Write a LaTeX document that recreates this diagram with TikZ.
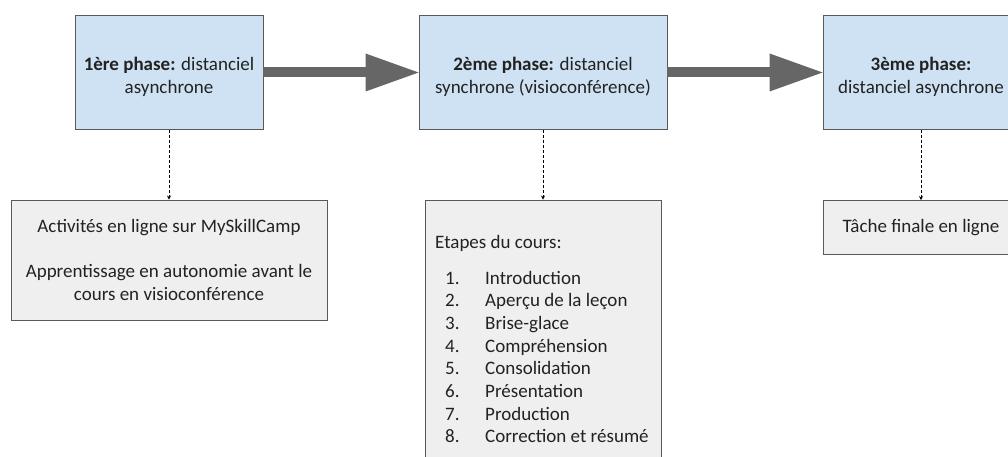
\documentclass[tikz,border=0pt]{standalone}
\usepackage{fontspec}
\setmainfont{Carlito}
\usetikzlibrary{arrows.meta}
\definecolor{phaseblue}{HTML}{CFE2F3}
\definecolor{notegray}{HTML}{EFEFEF}
\definecolor{edgegray}{HTML}{595959}
\definecolor{arrowgray}{HTML}{666666}
\definecolor{txt}{HTML}{222222}
\begin{document}
\begin{tikzpicture}[x=1pt,y=-1pt,
  every node/.style={text=txt,font=\fontsize{19}{22.8}\selectfont},
  phasebox/.style={draw=edgegray,line width=0.9pt,fill=phaseblue,minimum height=114pt,inner sep=0pt},
  phasetext/.style={align=center,inner sep=0pt},
  notebox/.style={draw=edgegray,line width=0.9pt,fill=notegray,align=center,inner sep=0pt},
  bigarrow/.style={draw=arrowgray,line width=10pt,-{Triangle[length=53pt,width=38pt,line width=0pt]}},
  dasharrow/.style={draw=black,line width=0.7pt,dash pattern=on 3pt off 2pt,-{Stealth[length=4pt,width=4pt]}},
  plain/.style={inner sep=0pt,anchor=base west}]
\useasboundingbox (0,0) rectangle (1008,457);
\clip (0,0) rectangle (1008,457);
\fill[white] (0,0) rectangle (1008,457);
% phase boxes
\node[phasebox,minimum width=188pt] (p1) at (169,72.5) {};
\node[phasebox,minimum width=248pt] (p2) at (543,72.5) {};
\node[phasebox,minimum width=196pt] (p3) at (921,72.5) {};
\node[phasetext] (t1) at (169,77) {\textbf{1ère phase:} distanciel\\asynchrone};
\node[phasetext] (t2) at (543,77) {\textbf{2ème phase:} distanciel\\synchrone (visioconférence)};
\node[phasetext] (t3) at (921,77) {\textbf{3ème phase:}\\distanciel asynchrone};
% note boxes
\node[notebox,minimum width=316pt,minimum height=120pt] (n1) at (169,260) {Activités en ligne sur MySkillCamp\\[22.8pt]Apprentissage en autonomie avant le\\cours en visioconférence};
\node[notebox,minimum width=236pt,minimum height=270pt] (n2) at (543,335) {};
\node[notebox,minimum width=196pt,minimum height=54pt] (n3) at (921,227.5) {Tâche finale en ligne};
% list in box 2
\node[plain] (head) at (435,248) {Etapes du cours:};
\foreach \i/\t [count=\k from 0] in {1/Introduction,2/Aperçu de la leçon,3/Brise-glace,4/Compréhension,5/Consolidation,6/Présentation,7/Production,8/Correction et résumé}{
  \node[plain] (num\i) at (445,284+22.7*\k) {\i.};
  \node[plain] (item\i) at (485,284+22.7*\k) {\t};
}
% connectors
\draw[bigarrow] (p1.east) -- (p2.west);
\draw[bigarrow] (p2.east) -- (p3.west);
\draw[dasharrow] (p1.south) -- (n1.north);
\draw[dasharrow] (p2.south) -- (n2.north);
\draw[dasharrow] (p3.south) -- (n3.north);
\end{tikzpicture}
\end{document}
